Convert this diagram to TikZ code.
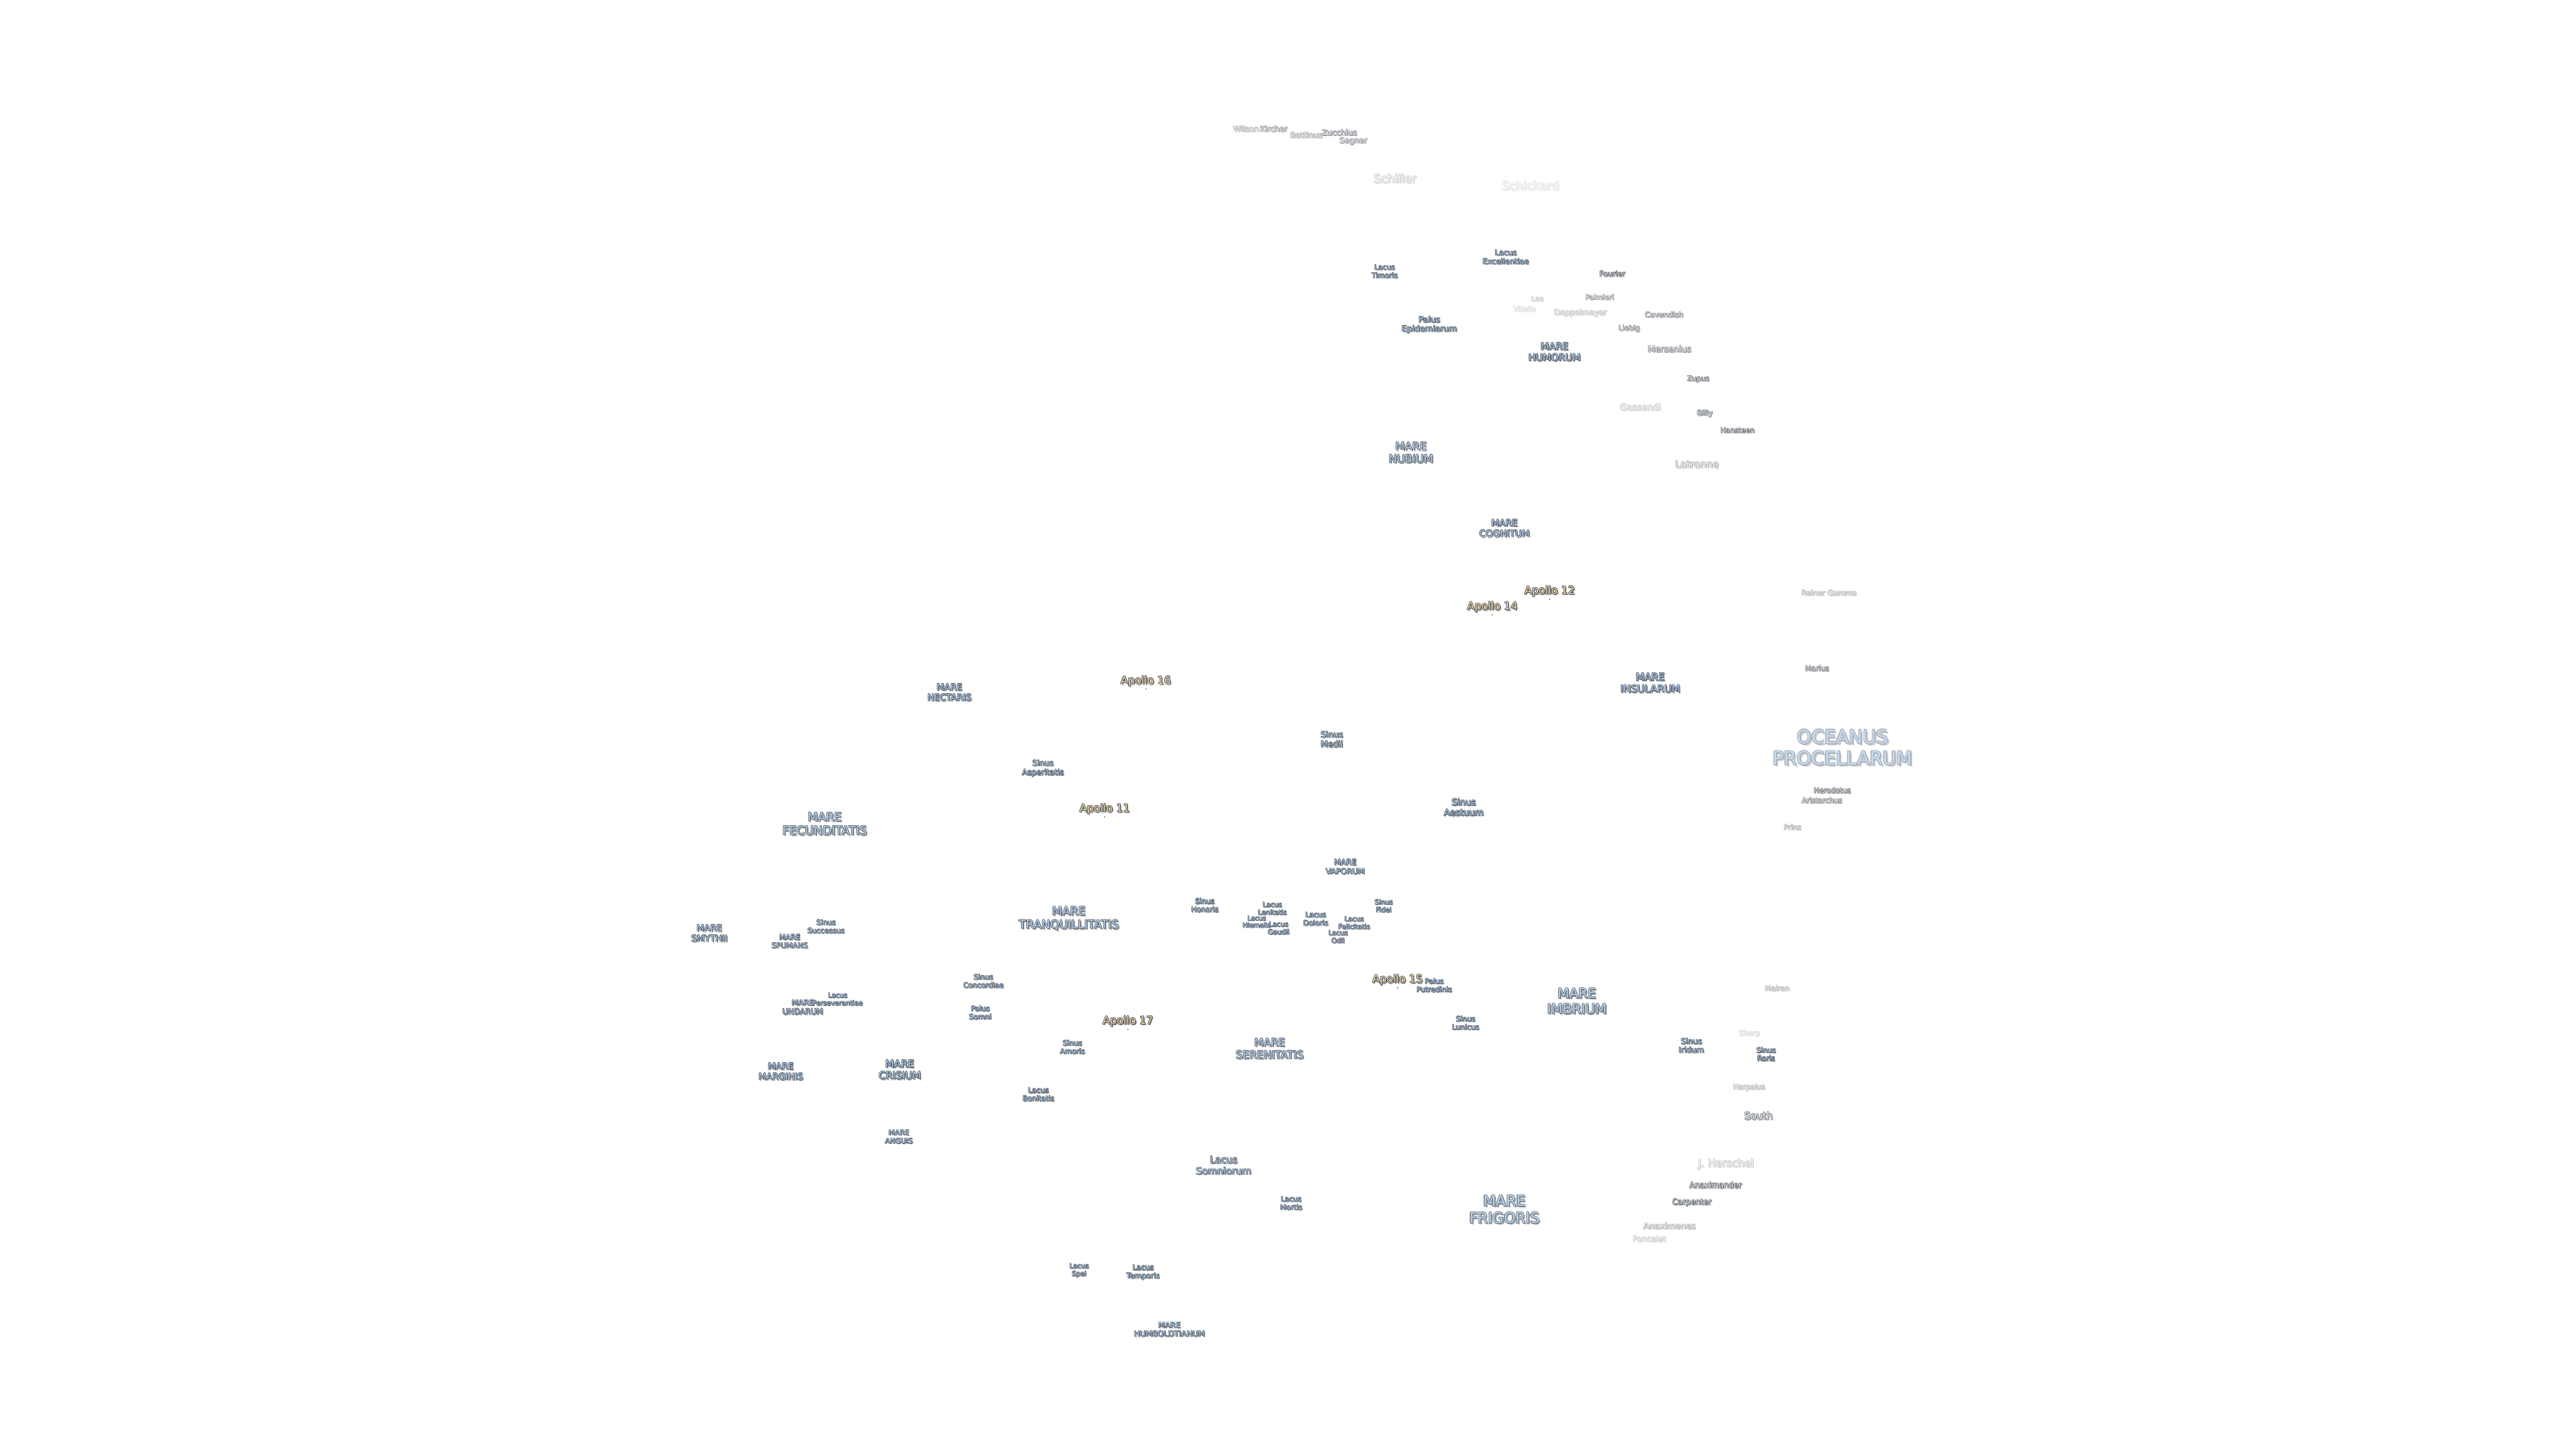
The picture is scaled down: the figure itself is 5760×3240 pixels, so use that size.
\documentclass[tikz,border=0pt]{standalone}
\usepackage{fontspec}
\setmainfont{DejaVu Sans}

% one label line: shadow, then outline copies, then the fill
\newcommand{\lab}[1]{\leavevmode\sbox0{\color{labshadow}#1}\sbox2{\color{labline}#1}%
	\rlap{\kern.11em\raise-.11em\copy0}%
	\rlap{\kern.045em\copy2}\rlap{\kern-.045em\copy2}%
	\rlap{\raise.045em\copy2}\rlap{\raise-.045em\copy2}%
	\rlap{\kern.032em\raise.032em\copy2}\rlap{\kern-.032em\raise.032em\copy2}%
	\rlap{\kern.032em\raise-.032em\copy2}\rlap{\kern-.032em\raise-.032em\copy2}%
	\textcolor{labfill}{#1}}

\definecolor{seafill}{HTML}{BAD6F2}
\definecolor{craterfill}{HTML}{F2F2F2}
\definecolor{sitefill}{HTML}{FBDCA6}
\definecolor{lineblue}{HTML}{3A424E}

\tikzset{
	label base/.style n args={3}{inner sep=0pt, align=center, yshift=-0.6pt,
		font=\fontsize{#1}{\fpeval{#1*1.15}}\selectfont,
		execute at begin node={\colorlet{labfill}{#3!\fpeval{min(100,#2+45)}!white}\colorlet{labline}{lineblue!#2!white}\colorlet{labshadow}{black!\fpeval{#2*0.5}!white}}},
	sea/.style 2 args={label base={#1}{#2}{seafill}},
	crater/.style 2 args={label base={#1}{#2}{craterfill}},
	site/.style={label base={4.8}{100}{sitefill}},
	site dot/.style={fill=orange!70!black}
}

\begin{document}
\begin{tikzpicture}[x=0.2pt, y=-0.2pt]
	\useasboundingbox (0,0) rectangle (5760,3240);

	%% SEAS
	\node[sea={8.3}{42}] (oceanus) at (4120,1670) {\lab{OCEANUS}\\\lab{PROCELLARUM}};
	\node[sea={6.0}{80}] (imbrium) at (3526,2237) {\lab{MARE}\\\lab{IMBRIUM}};
	\node[sea={6.6}{70}] (frigoris) at (3364,2703) {\lab{MARE}\\\lab{FRIGORIS}};
	\node[sea={4.9}{90}] (nubium) at (3155,1010) {\lab{MARE}\\\lab{NUBIUM}};
	\node[sea={4.3}{100}] (humorum) at (3476,785) {\lab{MARE}\\\lab{HUMORUM}};
	\node[sea={4.1}{100}] (cognitum) at (3364,1179) {\lab{MARE}\\\lab{COGNITUM}};
	\node[sea={4.5}{100}] (insularum) at (3690,1525) {\lab{MARE}\\\lab{INSULARUM}};
	\node[sea={4.0}{100}] (nectaris) at (2123,1546) {\lab{MARE}\\\lab{NECTARIS}};
	\node[sea={5.3}{85}] (fecunditatis) at (1844,1840) {\lab{MARE}\\\lab{FECUNDITATIS}};
	\node[sea={5.2}{90}] (tranquillitatis) at (2390,2052) {\lab{MARE}\\\lab{TRANQUILLITATIS}};
	\node[sea={3.5}{100}] (vaporum) at (3008,1936) {\lab{MARE}\\\lab{VAPORUM}};
	\node[sea={4.8}{90}] (serenitatis) at (2839,2343) {\lab{MARE}\\\lab{SERENITATIS}};
	\node[sea={4.0}{100}] (smythii) at (1586,2085) {\lab{MARE}\\\lab{SMYTHII}};
	\node[sea={3.3}{100}] (spumans) at (1766,2103) {\lab{MARE}\\\lab{SPUMANS}};
	\node[sea={3.5}{100}] (undarum) at (1795,2250) {\lab{MARE}\\\lab{UNDARUM}};
	\node[sea={4.0}{100}] (marginis) at (1746,2394) {\lab{MARE}\\\lab{MARGINIS}};
	\node[sea={4.5}{100}] (crisium) at (2012,2390) {\lab{MARE}\\\lab{CRISIUM}};
	\node[sea={3.2}{100}] (anguis) at (2010,2540) {\lab{MARE}\\\lab{ANGUIS}};
	\node[sea={3.5}{100}] (humboldtianum) at (2615,2971) {\lab{MARE}\\\lab{HUMBOLDTIANUM}};

	%% LAKES, BAYS, MARSHES
	\node[sea={3.4}{100}] (excellentiae) at (3367,573) {\lab{Lacus}\\\lab{Excellentiae}};
	\node[sea={3.2}{100}] (timoris) at (3096,605) {\lab{Lacus}\\\lab{Timoris}};
	\node[sea={3.7}{100}] (epidemiarum) at (3196,724) {\lab{Palus}\\\lab{Epidemiarum}};
	\node[sea={3.7}{100}] (medii) at (2978,1651) {\lab{Sinus}\\\lab{Medii}};
	\node[sea={3.5}{100}] (asperitatis) at (2332,1716) {\lab{Sinus}\\\lab{Asperitatis}};
	\node[sea={4.0}{100}] (aestuum) at (3273,1803) {\lab{Sinus}\\\lab{Aestuum}};
	\node[sea={3.2}{100}] (successus) at (1847,2070) {\lab{Sinus}\\\lab{Successus}};
	\node[sea={3.2}{100}] (concordiae) at (2199,2192) {\lab{Sinus}\\\lab{Concordiae}};
	\node[sea={3.0}{100}] (perseverantiae) at (1873,2232) {\lab{Lacus}\\\lab{Perseverantiae}};
	\node[sea={3.2}{100}] (somni) at (2192,2262) {\lab{Palus}\\\lab{Somni}};
	\node[sea={3.2}{100}] (amoris) at (2398,2339) {\lab{Sinus}\\\lab{Amoris}};
	\node[sea={3.2}{100}] (bonitatis) at (2322,2445) {\lab{Lacus}\\\lab{Bonitatis}};
	\node[sea={3.2}{100}] (honoris) at (2694,2022) {\lab{Sinus}\\\lab{Honoris}};
	\node[sea={3.0}{100}] (lenitatis) at (2845,2029) {\lab{Lacus}\\\lab{Lenitatis}};
	\node[sea={2.9}{100}] (hiemalis) at (2810,2059) {\lab{Lacus}\\\lab{Hiemalis}};
	\node[sea={3.0}{100}] (gaudii) at (2859,2073) {\lab{Lacus}\\\lab{Gaudii}};
	\node[sea={3.2}{100}] (doloris) at (2942,2053) {\lab{Lacus}\\\lab{Doloris}};
	\node[sea={3.0}{100}] (felicitatis) at (3028,2062) {\lab{Lacus}\\\lab{Felicitatis}};
	\node[sea={3.0}{100}] (odii) at (2992,2093) {\lab{Lacus}\\\lab{Odii}};
	\node[sea={3.0}{100}] (fidei) at (3094,2023) {\lab{Sinus}\\\lab{Fidei}};
	\node[sea={3.2}{100}] (putredinis) at (3207,2201) {\lab{Palus}\\\lab{Putredinis}};
	\node[sea={3.2}{100}] (lunicus) at (3277,2285) {\lab{Sinus}\\\lab{Lunicus}};
	\node[sea={3.5}{100}] (iridum) at (3782,2336) {\lab{Sinus}\\\lab{Iridum}};
	\node[sea={3.2}{100}] (roris) at (3949,2355) {\lab{Sinus}\\\lab{Roris}};
	\node[sea={4.3}{90}] (somniorum) at (2736,2604) {\lab{Lacus}\\\lab{Somniorum}};
	\node[sea={3.2}{100}] (mortis) at (2887,2689) {\lab{Lacus}\\\lab{Mortis}};
	\node[sea={3.0}{100}] (spei) at (2413,2839) {\lab{Lacus}\\\lab{Spei}};
	\node[sea={3.3}{100}] (temporis) at (2556,2843) {\lab{Lacus}\\\lab{Temporis}};

	%% CRATERS
	% South end
	\node[crater={3.5}{45}] (wilson) at (2786,286) {\lab{Wilson}};
	\node[crater={3.5}{60}] (kircher) at (2848,286) {\lab{Kircher}};
	\node[crater={3.5}{50}] (bettinus) at (2921,300) {\lab{Bettinus}};
	\node[crater={3.5}{70}] (zucchius) at (2995,294) {\lab{Zucchius}};
	\node[crater={3.5}{60}] (segner) at (3026,313) {\lab{Segner}};
	\node[crater={5.2}{25}] (schiller) at (3119,397) {\lab{Schiller}};
	\node[crater={5.3}{14}] (schickard) at (3422,413) {\lab{Schickard}};
	\node[crater={3.3}{100}] (fourier) at (3605,610) {\lab{Fourier}};
	\node[crater={3.2}{60}] (palmieri) at (3577,662) {\lab{Palmieri}};
	\node[crater={3.1}{30}] (lee) at (3438,666) {\lab{Lee}};
	\node[crater={3.2}{18}] (vitello) at (3409,689) {\lab{Vitello}};
	\node[crater={3.5}{35}] (doppelmayer) at (3534,698) {\lab{Doppelmayer}};
	\node[crater={3.3}{70}] (cavendish) at (3721,701) {\lab{Cavendish}};
	\node[crater={3.2}{70}] (liebig) at (3643,733) {\lab{Liebig}};
	\node[crater={3.8}{65}] (mersenius) at (3733,778) {\lab{Mersenius}};
	\node[crater={3.2}{85}] (zupus) at (3797,846) {\lab{Zupus}};
	\node[crater={4.0}{28}] (gassendi) at (3668,908) {\lab{Gassendi}};
	\node[crater={3.3}{80}] (billy) at (3812,923) {\lab{Billy}};
	\node[crater={3.2}{90}] (hansteen) at (3885,960) {\lab{Hansteen}};
	\node[crater={4.4}{45}] (latronne) at (3794,1036) {\lab{Latronne}};
	% West side
	\node[crater={3.3}{42}] (reiner) at (4090,1323) {\lab{Reiner Gamma}};
	\node[crater={3.2}{80}] (marius) at (4063,1492) {\lab{Marius}};
	\node[crater={3.2}{85}] (herodotus) at (4097,1765) {\lab{Herodotus}};
	\node[crater={3.2}{70}] (aristarchus) at (4074,1788) {\lab{Aristarchus}};
	\node[crater={3.2}{50}] (prinz) at (4008,1847) {\lab{Prinz}};
	% North end
	\node[crater={3.2}{45}] (mairan) at (3974,2208) {\lab{Mairan}};
	\node[crater={3.2}{22}] (sharp) at (3912,2310) {\lab{Sharp}};
	\node[crater={3.2}{40}] (harpalus) at (3911,2430) {\lab{Harpalus}};
	\node[crater={4.4}{75}] (south) at (3932,2493) {\lab{South}};
	\node[crater={4.7}{28}] (herschel) at (3859,2601) {\lab{J. Herschel}};
	\node[crater={3.5}{90}] (anaximander) at (3836,2648) {\lab{Anaximander}};
	\node[crater={3.5}{90}] (carpenter) at (3783,2687) {\lab{Carpenter}};
	\node[crater={3.8}{45}] (anaximenes) at (3733,2739) {\lab{Anaximenes}};
	\node[crater={3.5}{28}] (poncelet) at (3688,2768) {\lab{Poncelet}};

	%% LANDING SITES
	\node[site] (apollo11) at (2470,1807) {\lab{Apollo 11}};
	\node[site] (apollo12) at (3465,1320) {\lab{Apollo 12}};
	\node[site] (apollo14) at (3337,1355) {\lab{Apollo 14}};
	\node[site] (apollo15) at (3125,2189) {\lab{Apollo 15}};
	\node[site] (apollo16) at (2562,1521) {\lab{Apollo 16}};
	\node[site] (apollo17) at (2522,2282) {\lab{Apollo 17}};

	% Site dots
	\foreach \site in {apollo11, apollo12, apollo14, apollo15, apollo16, apollo17}
	{
		\fill[site dot] (\site.center) ++(0,17) circle (1.6);
	}
\end{tikzpicture}
\end{document}
